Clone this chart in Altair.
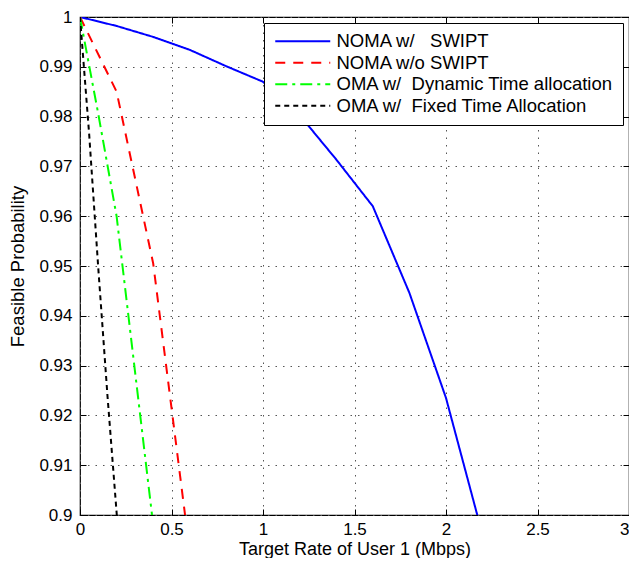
import altair as alt
import pandas as pd

# ---- data ----
series_names = ["NOMA w/\u00a0\u00a0\u00a0SWIPT", "NOMA w/o SWIPT",
                "OMA w/\u00a0\u00a0Dynamic Time allocation", "OMA w/\u00a0\u00a0Fixed Time Allocation"]
series_colors = ["#0000FF", "#FF0000", "#00FF00", "#000000"]
series_dashes = [[1, 0], [10, 8], [12, 5, 3, 5], [5, 4]]

noma_swipt_x = [0, 0.2, 0.4, 0.6, 0.8, 1.0, 1.2, 1.4, 1.6, 1.8, 2.0, 2.2]
noma_swipt_y = [1.0, 0.9982, 0.9960, 0.9934, 0.9901, 0.9870, 0.9803, 0.9714, 0.9620, 0.9446, 0.9235, 0.8960]

noma_noswipt_x = [0, 0.2, 0.4, 0.6]
noma_noswipt_y = [1.0, 0.9850, 0.9505, 0.8925]

oma_dyn_x = [0, 0.1, 0.2, 0.3, 0.4]
oma_dyn_y = [1.0, 0.9805, 0.9600, 0.9290, 0.8980]

oma_fixed_x = [0, 0.05, 0.1, 0.15, 0.2, 0.25]
oma_fixed_y = [1.0, 0.9765, 0.9495, 0.9240, 0.9005, 0.8760]

x_ticks = [0, 0.5, 1, 1.5, 2, 2.5, 3]
y_ticks = [0.9, 0.91, 0.92, 0.93, 0.94, 0.95, 0.96, 0.97, 0.98, 0.99, 1.0]

rows = []
for name, xs, ys in zip(series_names,
                        [noma_swipt_x, noma_noswipt_x, oma_dyn_x, oma_fixed_x],
                        [noma_swipt_y, noma_noswipt_y, oma_dyn_y, oma_fixed_y]):
    for i, (a, b) in enumerate(zip(xs, ys)):
        rows.append({"series": name, "x": a, "y": b, "order": i})
df = pd.DataFrame(rows)

FONT = "Liberation Sans"
xscale = alt.Scale(domain=[0, 3], nice=False, zero=False)
yscale = alt.Scale(domain=[0.9, 1.0], nice=False, zero=False)

legend = alt.Legend(
    title=None, orient="none", legendX=184, legendY=6,
    fillColor="white", strokeColor="black", padding=9,
    symbolType="M-2,0H9", symbolSize=100, symbolStrokeWidth=2,
    labelFont=FONT, labelFontSize=18.5, labelColor="black", labelLimit=400,
    labelOffset=42, rowPadding=2.5, cornerRadius=0, symbolOffset=3,
)

main_x_axis = alt.Axis(values=x_ticks, format="~g", ticks=False, domain=False,
                       grid=True, gridDash=[1.5, 6], gridColor="#555555", gridWidth=1,
                       labelFont=FONT, labelFontSize=17, labelColor="black",
                       labelPadding=6, labelFlush=False, labelOverlap=False,
                       labelAlign={"condition": {"test": "datum.value == 3", "value": "right"},
                                   "value": "center"},
                       title="Target Rate of User 1 (Mbps)", titleFont=FONT,
                       titleFontSize=18, titleFontWeight="normal", titleColor="black",
                       titleY=39, titleBaseline="alphabetic")
main_y_axis = alt.Axis(values=y_ticks, format="~g", ticks=False, domain=False,
                       grid=True, gridDash=[1.5, 6], gridColor="#555555", gridWidth=1,
                       labelFont=FONT, labelFontSize=17, labelColor="black",
                       labelPadding=8, labelFlush=False, labelOverlap=False,
                       title="Feasible Probability", titleFont=FONT,
                       titleFontSize=18.5, titleFontWeight="normal", titleColor="black",
                       titleX=-63, titleY=249, titleAngle=270, titleBaseline="middle",
                       titleAlign="center")

lines = alt.Chart(df).mark_line(clip=True, strokeWidth=2).encode(
    x=alt.X("x:Q", scale=xscale, axis=main_x_axis),
    y=alt.Y("y:Q", scale=yscale, axis=main_y_axis),
    color=alt.Color("series:N", scale=alt.Scale(domain=series_names, range=series_colors), legend=legend),
    strokeDash=alt.StrokeDash("series:N", scale=alt.Scale(domain=series_names, range=series_dashes), legend=legend),
    order="order:Q",
)

def tick_axis(orient, values):
    return alt.Axis(orient=orient, values=values, offset=-6, tickSize=6, tickColor="black",
                    tickWidth=1, labels=False, domain=False, grid=False, title=None)

ticks_bl = alt.Chart(df).mark_point(opacity=0).encode(
    x=alt.X("x:Q", scale=xscale, axis=tick_axis("bottom", x_ticks)),
    y=alt.Y("y:Q", scale=yscale, axis=tick_axis("left", y_ticks)),
)
ticks_tr = alt.Chart(df).mark_point(opacity=0).encode(
    x=alt.X("x:Q", scale=xscale, axis=tick_axis("top", x_ticks)),
    y=alt.Y("y:Q", scale=yscale, axis=tick_axis("right", y_ticks)),
)

chart = alt.layer(lines, ticks_bl, ticks_tr).resolve_axis(
    x="independent", y="independent"
).properties(
    width=549, height=498,
    autosize=alt.AutoSizeParams(type="none"),
    padding={"left": 72, "top": 9, "right": 0, "bottom": 43},
    background="white",
).configure_view(stroke="black", strokeWidth=1.2)

chart.save("out.html", embed_options={"renderer": "svg", "actions": False})
